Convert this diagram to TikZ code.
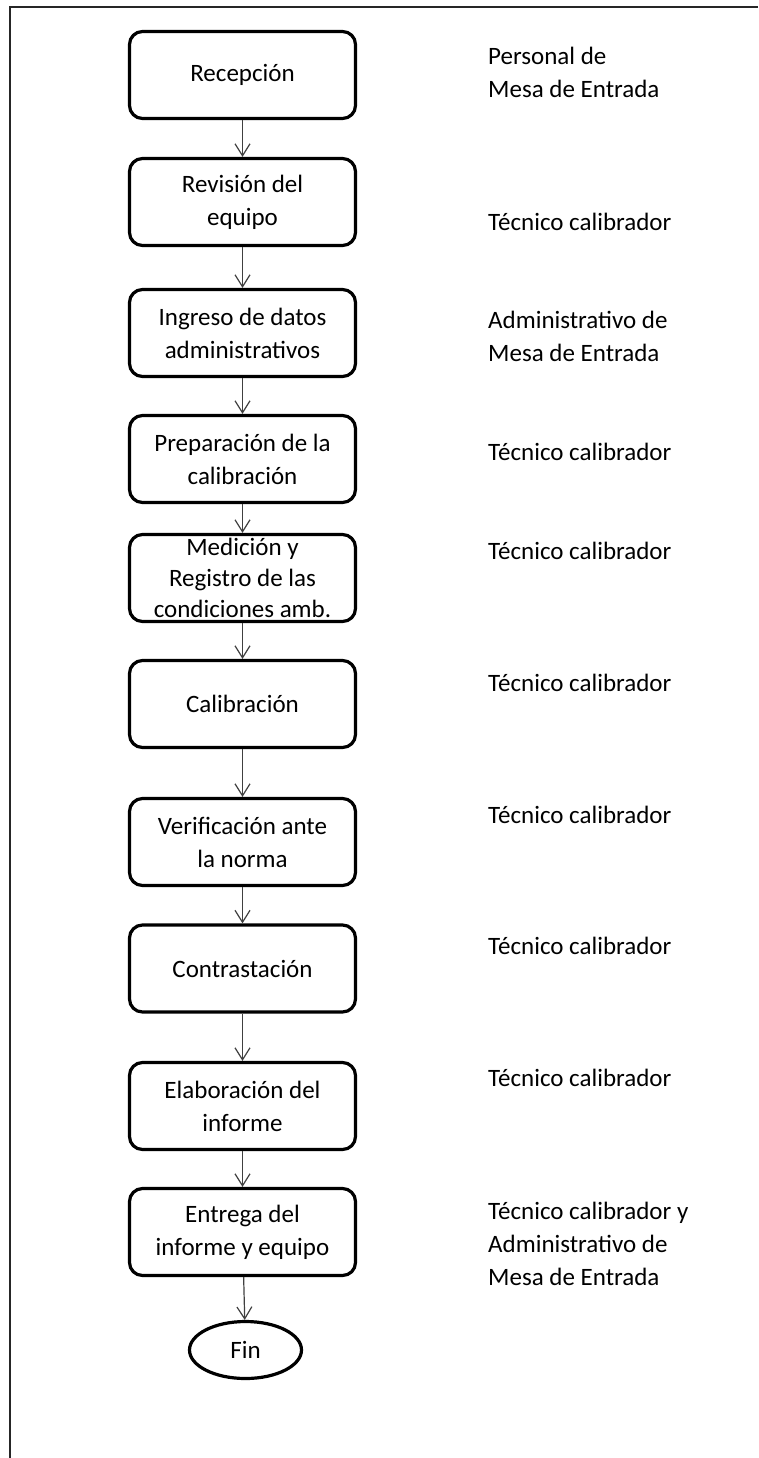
\documentclass[tikz,border=0pt]{standalone}
\usepackage{fontspec}
\setmainfont{Carlito}
\usetikzlibrary{arrows.meta,shapes.geometric}
\begin{document}
\begin{tikzpicture}[x=1pt,y=-1pt,
 box/.style={draw, line width=3.2pt, rounded corners=13pt, minimum width=226pt, minimum height=87pt, align=center, inner sep=0pt, font=\fontsize{25}{33}\selectfont},
 fin/.style={draw, ellipse, line width=3.2pt, minimum width=112pt, minimum height=57pt, inner sep=0pt, font=\fontsize{25}{33}\selectfont},
 role/.style={anchor=base west, align=left, inner sep=0pt, font=\fontsize{25}{33}\selectfont},
 flow/.style={draw=black!75, line width=1.2pt, -{Straight Barb[length=12pt,width=15pt]}},
 frame/.style={draw=black!85, line width=1.5pt}
]
\useasboundingbox (0,0) rectangle (758,1458);
\draw[frame] (758,7) -- (10,7) -- (10,1458);

\node[box] (b1) at (242.5,75) {Recepción};
\node[box] (b2) at (242.5,202) {Revisión del\\equipo};
\node[box] (b3) at (242.5,333) {Ingreso de datos\\administrativos};
\node[box] (b4) at (242.5,459) {Preparación de la\\calibración};
\node[box, font=\fontsize{25}{31}\selectfont] (b5) at (242.5,578) {Medición y\\Registro de las\\condiciones amb.};
\node[box] (b6) at (242.5,704) {Calibración};
\node[box] (b7) at (242.5,842) {Verificación ante\\la norma};
\node[box] (b8) at (242.5,968.5) {Contrastación};
\node[box] (b9) at (242.5,1106) {Elaboración del\\informe};
\node[box] (b10) at (242.5,1232) {Entrega del\\informe y equipo};
\node[fin] (fin) at (245.5,1350) {Fin};

\foreach \a/\b in {b1/b2,b2/b3,b3/b4,b4/b5,b5/b6,b6/b7,b7/b8,b8/b9,b9/b10,b10/fin}
  \draw[flow] (\a) -- (\b);

\node[role] (r1) at (488,98) {Personal de\\Mesa de Entrada};
\node[role] (r2) at (488,230) {Técnico calibrador};
\node[role] (r3) at (488,361) {Administrativo de\\Mesa de Entrada};
\node[role] (r4) at (488,460) {Técnico calibrador};
\node[role] (r5) at (488,559) {Técnico calibrador};
\node[role] (r6) at (488,691) {Técnico calibrador};
\node[role] (r7) at (488,823) {Técnico calibrador};
\node[role] (r8) at (488,954) {Técnico calibrador};
\node[role] (r9) at (488,1086) {Técnico calibrador};
\node[role] (r10) at (488,1285) {Técnico calibrador y\\Administrativo de\\Mesa de Entrada};
\end{tikzpicture}
\end{document}
